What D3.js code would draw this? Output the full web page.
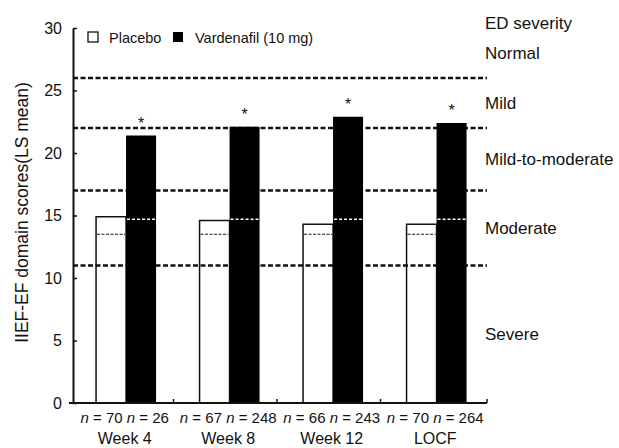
<!DOCTYPE html>
<html>
<head>
<meta charset="utf-8">
<script src="https://cdn.jsdelivr.net/npm/d3@7"></script>
<style>
  body { margin: 0; background: #fff; }
  svg { display: block; font-family: Arial, "Liberation Sans", sans-serif; }
</style>
</head>
<body>
<div id="chart"></div>
<script>
// chart values
var categories = ['Week 4', 'Week 8', 'Week 12', 'LOCF'];
var placebo = [14.9, 14.6, 14.3, 14.3];
var vardenafil = [21.4, 22.1, 22.9, 22.4];
var nPlacebo = [70, 67, 66, 70];
var nVardenafil = [26, 248, 243, 264];
var baselinePlacebo = [13.5, 13.5, 13.5, 13.5];
var baselineVardenafil = [14.7, 14.7, 14.7, 14.7];
var yTicks = [0, 5, 10, 15, 20, 25, 30];
var severityCuts = [11, 17, 22, 26];
var severityNames = ['Severe', 'Moderate', 'Mild-to-moderate', 'Mild', 'Normal'];
var severityBounds = [0, 11, 17, 22, 26, 30];
var seriesNames = ['Placebo', 'Vardenafil (10 mg)'];

var W = 619, H = 448;
var margin = { top: 28, right: 132, bottom: 45, left: 73 };

var svg = d3.select('#chart').append('svg')
    .attr('width', W)
    .attr('height', H);

var x0 = d3.scaleBand()
    .domain(categories)
    .range([margin.left, W - margin.right])
    .padding(0);

var x1 = d3.scaleBand()
    .domain(['placebo', 'vardenafil'])
    .range([0, x0.bandwidth()])
    .paddingInner(0)
    .paddingOuter(0.725)
    .align(0.53);

var y = d3.scaleLinear()
    .domain([0, 30])
    .range([H - margin.bottom, margin.top]);

var rows = categories.map(function (c, i) {
    return { cat: c, p: placebo[i], v: vardenafil[i], np: nPlacebo[i], nv: nVardenafil[i],
             bp: baselinePlacebo[i], bv: baselineVardenafil[i] };
});

// placebo bars (white, outlined)
svg.append('g').selectAll('rect')
    .data(rows)
    .enter().append('rect')
    .attr('x', function (d) { return x0(d.cat) + x1('placebo'); })
    .attr('y', function (d) { return y(d.p); })
    .attr('width', x1.bandwidth())
    .attr('height', function (d) { return y(0) - y(d.p); })
    .attr('fill', '#fff')
    .attr('stroke', '#111')
    .attr('stroke-width', 1.5);

// severity cut lines
svg.append('g').selectAll('line')
    .data(severityCuts)
    .enter().append('line')
    .attr('x1', margin.left)
    .attr('x2', W - margin.right)
    .attr('y1', function (d) { return y(d); })
    .attr('y2', function (d) { return y(d); })
    .attr('stroke', '#111')
    .attr('stroke-width', 2.5)
    .attr('stroke-dasharray', '5,2.5');

// vardenafil bars (black)
svg.append('g').selectAll('rect')
    .data(rows)
    .enter().append('rect')
    .attr('x', function (d) { return x0(d.cat) + x1('vardenafil'); })
    .attr('y', function (d) { return y(d.v); })
    .attr('width', x1.bandwidth())
    .attr('height', function (d) { return y(0) - y(d.v); })
    .attr('fill', '#000');

// baseline dashes inside the bars
svg.append('g').selectAll('line')
    .data(rows)
    .enter().append('line')
    .attr('x1', function (d) { return x0(d.cat) + x1('placebo') + 1; })
    .attr('x2', function (d) { return x0(d.cat) + x1('placebo') + x1.bandwidth() - 1; })
    .attr('y1', function (d) { return y(d.bp); })
    .attr('y2', function (d) { return y(d.bp); })
    .attr('stroke', '#111')
    .attr('stroke-width', 1)
    .attr('stroke-dasharray', '3,1.5');

svg.append('g').selectAll('line')
    .data(rows)
    .enter().append('line')
    .attr('x1', function (d) { return x0(d.cat) + x1('vardenafil') + 1; })
    .attr('x2', function (d) { return x0(d.cat) + x1('vardenafil') + x1.bandwidth() - 1; })
    .attr('y1', function (d) { return y(d.bv); })
    .attr('y2', function (d) { return y(d.bv); })
    .attr('stroke', '#fff')
    .attr('stroke-width', 1.3)
    .attr('stroke-dasharray', '3,2');

// significance stars
svg.append('g').selectAll('text')
    .data(rows)
    .enter().append('text')
    .attr('x', function (d) { return x0(d.cat) + x1('vardenafil') + x1.bandwidth() / 2; })
    .attr('y', function (d) { return y(d.v) - 7; })
    .attr('text-anchor', 'middle')
    .style('font-size', '16px')
    .attr('fill', '#111')
    .text('*');

// y axis
var yAxis = svg.append('g')
    .attr('transform', 'translate(' + margin.left + ',0)')
    .call(d3.axisLeft(y).tickValues(yTicks).tickSizeInner(-4).tickSizeOuter(0).tickPadding(11));
yAxis.select('.domain').attr('stroke', '#111').attr('stroke-width', 2);
yAxis.selectAll('.tick line').attr('stroke', '#111').attr('stroke-width', 1.5);
yAxis.selectAll('.tick text')
    .style('font-size', '16px')
    .attr('fill', '#111');

// x axis
svg.append('line')
    .attr('x1', margin.left - 4)
    .attr('x2', W - margin.right)
    .attr('y1', y(0))
    .attr('y2', y(0))
    .attr('stroke', '#111')
    .attr('stroke-width', 2);

svg.append('g').selectAll('line')
    .data(categories.slice(1).concat(['end']))
    .enter().append('line')
    .attr('x1', function (d) { return d == 'end' ? W - margin.right : x0(d) - 3; })
    .attr('x2', function (d) { return d == 'end' ? W - margin.right : x0(d) - 3; })
    .attr('y1', y(0))
    .attr('y2', y(0) - 4)
    .attr('stroke', '#111')
    .attr('stroke-width', 1.5);

// n labels
var nLab = svg.append('g').selectAll('text')
    .data(rows)
    .enter().append('text')
    .attr('x', function (d) { return x0(d.cat) + x0.bandwidth() / 2; })
    .attr('y', H - 25)
    .attr('text-anchor', 'middle')
    .style('font-size', '15px')
    .attr('fill', '#111');
nLab.append('tspan').style('font-style', 'italic').text('n');
nLab.append('tspan').text(function (d) { return ' = ' + d.np + ' '; });
nLab.append('tspan').style('font-style', 'italic').text('n');
nLab.append('tspan').text(function (d) { return ' = ' + d.nv; });

// category labels
svg.append('g').selectAll('text')
    .data(categories)
    .enter().append('text')
    .attr('x', function (d) { return x0(d) + x0.bandwidth() / 2; })
    .attr('y', H - 4)
    .attr('text-anchor', 'middle')
    .style('font-size', '16px')
    .attr('fill', '#111')
    .text(function (d) { return d; });

// y axis title
svg.append('text')
    .attr('transform', 'translate(28,' + (y(15) - 3) + ') rotate(-90)')
    .attr('text-anchor', 'middle')
    .style('font-size', '17.5px')
    .attr('fill', '#111')
    .text('IIEF-EF domain scores(LS mean)');

// legend
var legend = svg.append('g')
    .attr('transform', 'translate(' + (margin.left + 15) + ',' + (margin.top + 4) + ')');
legend.append('rect')
    .attr('x', 0).attr('y', 0).attr('width', 10).attr('height', 10)
    .attr('fill', '#fff').attr('stroke', '#111').attr('stroke-width', 1.3);
legend.append('text')
    .attr('x', 21).attr('y', 11)
    .style('font-size', '14.5px')
    .attr('fill', '#111')
    .text(seriesNames[0]);
legend.append('rect')
    .attr('x', 85).attr('y', 0).attr('width', 10).attr('height', 10)
    .attr('fill', '#000');
legend.append('text')
    .attr('x', 107).attr('y', 11)
    .style('font-size', '14.5px')
    .attr('fill', '#111')
    .text(seriesNames[1]);

// severity labels on the right
svg.append('text')
    .attr('x', W - margin.right - 2)
    .attr('y', y(30) + 1)
    .style('font-size', '17px')
    .attr('fill', '#111')
    .text('ED severity');

svg.append('g').selectAll('text')
    .data(severityNames)
    .enter().append('text')
    .attr('x', W - margin.right - 2)
    .attr('y', function (d, i) { return y((severityBounds[i] + severityBounds[i + 1]) / 2); })
    .attr('dy', '0.35em')
    .style('font-size', '17px')
    .attr('fill', '#111')
    .text(function (d) { return d; });
</script>
</body>
</html>
